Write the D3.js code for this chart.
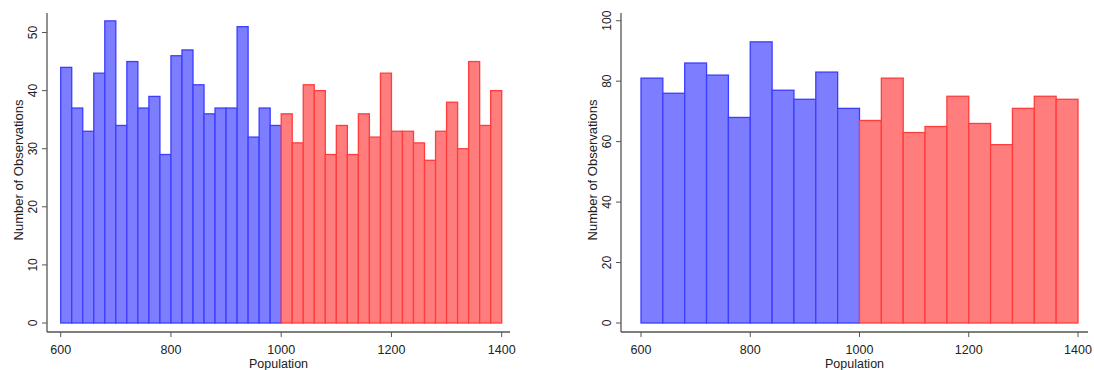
<!DOCTYPE html>
<html>
<head>
<meta charset="utf-8">
<script src="https://cdn.jsdelivr.net/npm/d3@7"></script>
<style>
  body { margin: 0; background: #fff; }
  svg text { font-family: "Liberation Sans", Arial, sans-serif; fill: #222; }
</style>
</head>
<body>
<div id="chart"></div>
<script>
// histogram counts, 20-wide bins from 600 to 1400
const narrowCounts = [44, 37, 33, 43, 52, 34, 45, 37, 39, 29, 46, 47, 41, 36, 37, 37, 51, 32, 37, 34,
                      36, 31, 41, 40, 29, 34, 29, 36, 32, 43, 33, 33, 31, 28, 33, 38, 30, 45, 34, 40];
// 40-wide bins from 600 to 1400
const wideCounts = [81, 76, 86, 82, 68, 93, 77, 74, 83, 71,
                    67, 81, 63, 65, 75, 66, 59, 71, 75, 74];
const xTicks = [600, 800, 1000, 1200, 1400];
const yTicksLeft = [0, 10, 20, 30, 40, 50];
const yTicksRight = [0, 20, 40, 60, 80, 100];
const cutoff = 1000;
const xLabel = "Population";
const yLabel = "Number of Observations";

const width = 1094, height = 370;

const svg = d3.select("#chart").append("svg")
    .attr("width", width)
    .attr("height", height);

function drawPanel(counts, binWidth, yTicks, yMax, p) {
    const g = svg.append("g");

    const x = d3.scaleLinear().domain([600, 1400]).range([p.x0, p.x1]);
    const y = d3.scaleLinear().domain([0, yMax]).range([323, p.yTop]);

    const bins = counts.map((c, i) => ({ lo: 600 + i * binWidth, hi: 600 + (i + 1) * binWidth, n: c }));

    g.selectAll("rect")
        .data(bins)
        .join("rect")
        .attr("x", d => x(d.lo))
        .attr("y", d => y(d.n))
        .attr("width", d => x(d.hi) - x(d.lo))
        .attr("height", d => y(0) - y(d.n))
        .attr("fill", d => d.lo < cutoff ? "#7d7dff" : "#ff7d7d")
        .attr("stroke", d => d.lo < cutoff ? "#3d3dff" : "#ff3d3d")
        .attr("stroke-width", 1.3);

    // axis lines
    g.append("line")
        .attr("x1", p.axisX).attr("x2", p.axisX)
        .attr("y1", 13).attr("y2", 332)
        .attr("stroke", "#555").attr("stroke-width", 1.3);
    g.append("line")
        .attr("x1", p.axisX).attr("x2", p.axisEnd)
        .attr("y1", 332).attr("y2", 332)
        .attr("stroke", "#555").attr("stroke-width", 1.3);

    // y ticks
    g.selectAll(".yt")
        .data(yTicks)
        .join("line")
        .attr("x1", p.axisX - 5).attr("x2", p.axisX)
        .attr("y1", d => y(d)).attr("y2", d => y(d))
        .attr("stroke", "#555").attr("stroke-width", 1);
    g.selectAll(".ytl")
        .data(yTicks)
        .join("text")
        .attr("transform", d => `translate(${p.axisX - 14},${y(d)}) rotate(-90)`)
        .attr("text-anchor", "middle")
        .attr("dy", "0.35em")
        .style("font-size", "12px")
        .text(d => d);

    // x ticks
    g.selectAll(".xt")
        .data(xTicks)
        .join("line")
        .attr("x1", d => x(d)).attr("x2", d => x(d))
        .attr("y1", 332).attr("y2", 337)
        .attr("stroke", "#555").attr("stroke-width", 1);
    g.selectAll(".xtl")
        .data(xTicks)
        .join("text")
        .attr("x", d => x(d))
        .attr("y", 353.5)
        .attr("text-anchor", "middle")
        .style("font-size", "12.5px")
        .text(d => d);

    // titles
    g.append("text")
        .attr("x", (p.axisX + p.axisEnd) / 2)
        .attr("y", 368)
        .attr("text-anchor", "middle")
        .style("font-size", "12.5px")
        .text(xLabel);
    g.append("text")
        .attr("transform", `translate(${p.axisX - 29},170) rotate(-90)`)
        .attr("text-anchor", "middle")
        .attr("dy", "0.35em")
        .style("font-size", "13px")
        .text(yLabel);
}

drawPanel(narrowCounts, 20, yTicksLeft, 50, { x0: 60.7, x1: 501.7, yTop: 32.5, axisX: 47, axisEnd: 510 });
drawPanel(wideCounts, 40, yTicksRight, 100, { x0: 641, x1: 1078, yTop: 20.7, axisX: 621, axisEnd: 1088 });
</script>
</body>
</html>
